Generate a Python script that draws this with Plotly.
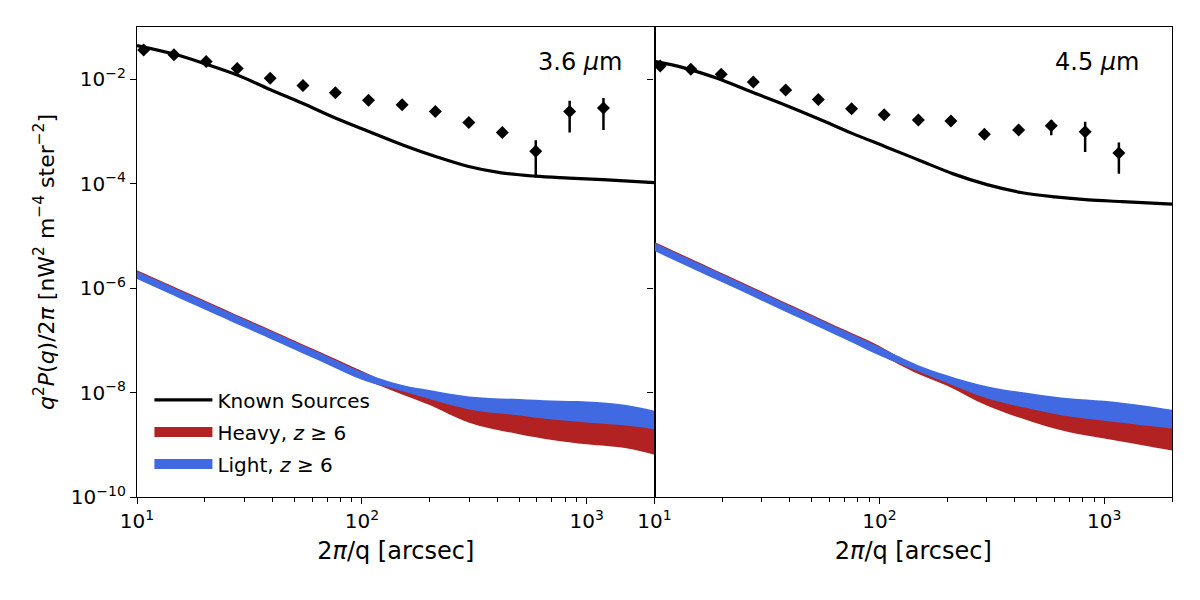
import plotly.graph_objects as go

# ---------------- data ----------------
# model band grid (2pi/q in arcsec)
band_x = [10, 15, 20, 30, 50, 70, 100, 150, 200, 300, 500, 700, 1000, 1500, 2000]

# 3.6 micron bands
heavy36_upper = [2.21e-6, 1.01e-6, 5.81e-7, 2.65e-7, 9.91e-8, 5.18e-8, 2.60e-8, 1.23e-8, 9.16e-9, 6.34e-9, 5.22e-9, 4.62e-9, 4.24e-9, 3.66e-9, 2.97e-9]
heavy36_lower = [1.56e-6, 7.11e-7, 4.08e-7, 1.87e-7, 6.97e-8, 3.64e-8, 1.83e-8, 9.33e-9, 5.77e-9, 2.65e-9, 1.59e-9, 1.24e-9, 1.02e-9, 8.59e-10, 6.46e-10]
light36_upper = [2.11e-6, 9.66e-7, 5.55e-7, 2.54e-7, 9.46e-8, 4.94e-8, 2.48e-8, 1.41e-8, 1.12e-8, 8.45e-9, 7.52e-9, 7.03e-9, 6.73e-9, 5.77e-9, 4.48e-9]
light36_lower = [1.49e-6, 6.79e-7, 3.90e-7, 1.78e-7, 6.65e-8, 3.48e-8, 1.75e-8, 1.07e-8, 7.53e-9, 4.76e-9, 3.63e-9, 3.04e-9, 2.67e-9, 2.33e-9, 1.98e-9]

# 4.5 micron bands
heavy45_upper = [7.64e-6, 3.41e-6, 1.92e-6, 8.57e-7, 3.10e-7, 1.59e-7, 7.82e-8, 2.88e-8, 1.81e-8, 1.01e-8, 6.53e-9, 5.21e-9, 4.47e-9, 3.65e-9, 3.10e-9]
heavy45_lower = [5.35e-6, 2.39e-6, 1.35e-6, 6.01e-7, 2.17e-7, 1.11e-7, 5.37e-8, 2.24e-8, 1.35e-8, 5.64e-9, 2.58e-9, 1.73e-9, 1.32e-9, 9.70e-10, 7.80e-10]
light45_upper = [7.29e-6, 3.26e-6, 1.84e-6, 8.18e-7, 2.96e-7, 1.52e-7, 7.46e-8, 3.31e-8, 2.15e-8, 1.32e-8, 9.31e-9, 7.80e-9, 6.95e-9, 5.66e-9, 4.67e-9]
light45_lower = [5.11e-6, 2.28e-6, 1.29e-6, 5.74e-7, 2.07e-7, 1.06e-7, 5.13e-8, 2.51e-8, 1.52e-8, 7.78e-9, 4.59e-9, 3.48e-9, 2.87e-9, 2.35e-9, 2.06e-9]

# known sources
known36_x = [10, 14.6, 19.9, 28.1, 39.0, 54.1, 76.6, 108, 153, 216, 295, 417, 589, 834, 1178, 2000]
known36_y = [4.42e-2, 3.03e-2, 2.00e-2, 1.19e-2, 6.35e-3, 3.51e-3, 1.79e-3, 9.89e-4, 5.46e-4, 3.24e-4, 2.16e-4, 1.61e-4, 1.39e-4, 1.28e-4, 1.19e-4, 1.05e-4]
known45_x = [10, 13.4, 19.0, 26.9, 37.8, 53.5, 75.7, 107, 151, 213, 301, 426, 603, 851, 1202, 2000]
known45_y = [2.19e-2, 1.67e-2, 1.04e-2, 5.74e-3, 3.25e-3, 1.75e-3, 9.18e-4, 5.06e-4, 2.79e-4, 1.54e-4, 9.57e-5, 6.79e-5, 5.58e-5, 4.90e-5, 4.54e-5, 4.04e-5]

# measured points
obs36_x = [10.7, 14.6, 20.3, 27.9, 39.1, 54.7, 76.2, 107, 151, 212, 299, 421, 593, 839, 1186]
obs36_y = [3.64e-2, 2.94e-2, 2.19e-2, 1.60e-2, 1.04e-2, 7.6e-3, 5.5e-3, 3.97e-3, 3.25e-3, 2.42e-3, 1.48e-3, 9.5e-4, 4.19e-4, 2.42e-3, 2.81e-3]
obs36_err_plus = [0, 0, 0, 0, 0, 0, 0, 0, 0, 0, 0, 0, 2.6e-4, 1.47e-3, 1.58e-3]
obs36_err_minus = [0, 0, 0, 0, 0, 0, 0, 0, 0, 0, 0, 0, 2.86e-4, 1.47e-3, 1.74e-3]

obs45_x = [10.6, 14.5, 19.8, 27.5, 38.3, 53.5, 75.2, 105, 149, 208, 293, 416, 581, 822, 1161]
obs45_y = [1.80e-2, 1.55e-2, 1.25e-2, 8.8e-3, 6.2e-3, 4.07e-3, 2.72e-3, 2.08e-3, 1.66e-3, 1.59e-3, 8.8e-4, 1.07e-3, 1.28e-3, 9.9e-4, 3.87e-4]
obs45_err_plus = [0, 0, 0, 0, 0, 0, 0, 0, 0, 0, 0, 0, 3.8e-4, 5.5e-4, 2.28e-4]
obs45_err_minus = [0, 0, 0, 0, 0, 0, 0, 0, 0, 0, 0, 0, 4.3e-4, 5.85e-4, 2.33e-4]

x_tickvals = [10, 100, 1000]
x_ticktext = ["10<sup>1</sup>", "10<sup>2</sup>", "10<sup>3</sup>"]
y_tickvals = [1e-10, 1e-8, 1e-6, 1e-4, 1e-2]
y_ticktext = ["10<sup>−10</sup>", "10<sup>−8</sup>", "10<sup>−6</sup>", "10<sup>−4</sup>", "10<sup>−2</sup>"]
x_minor = [20, 30, 40, 50, 60, 70, 80, 90, 200, 300, 400, 500, 600, 700, 800, 900, 2000]

RED = "#B22222"
BLUE = "#4169E1"
FONT = "DejaVu Sans"
HEAVY_NAME = "Heavy, <i>z</i> ≥ 6"
LIGHT_NAME = "Light, <i>z</i> ≥ 6"

fig = go.Figure()

panels = [
    ("x", "y", heavy36_upper, heavy36_lower, light36_upper, light36_lower,
     known36_x, known36_y, obs36_x, obs36_y, obs36_err_plus, obs36_err_minus, True),
    ("x2", "y2", heavy45_upper, heavy45_lower, light45_upper, light45_lower,
     known45_x, known45_y, obs45_x, obs45_y, obs45_err_plus, obs45_err_minus, False),
]


def add_band(lower, upper, color, name, group, xa, ya):
    fig.add_trace(go.Scatter(
        x=band_x, y=lower, mode="lines", line=dict(width=0, color=color, shape="spline"),
        showlegend=False, legendgroup=group, xaxis=xa, yaxis=ya, hoverinfo="skip"))
    fig.add_trace(go.Scatter(
        x=band_x, y=upper, mode="lines", line=dict(width=0, color=color, shape="spline"),
        fill="tonexty", fillcolor=color, name=name, legendgroup=group,
        showlegend=False, xaxis=xa, yaxis=ya, hoverinfo="skip"))


for (xa, ya, hu, hl, lu, ll, kx, ky, ox, oy, ep, em, show) in panels:
    add_band(hl, hu, RED, HEAVY_NAME, "heavy", xa, ya)
    add_band(ll, lu, BLUE, LIGHT_NAME, "light", xa, ya)
    fig.add_trace(go.Scatter(
        x=kx, y=ky, mode="lines", line=dict(color="black", width=3.2, shape="spline"),
        name="Known Sources", legendgroup="known", showlegend=show, legendrank=1,
        xaxis=xa, yaxis=ya))
    fig.add_trace(go.Scatter(
        x=ox, y=oy, mode="markers",
        marker=dict(symbol="diamond", size=10, color="black"),
        error_y=dict(type="data", symmetric=False, array=ep, arrayminus=em,
                     color="black", thickness=2.5, width=0),
        showlegend=False, xaxis=xa, yaxis=ya))

# legend swatches for the bands (patch-like entries)
fig.add_trace(go.Scatter(x=[None], y=[None], mode="lines", line=dict(color=RED, width=17),
                         name=HEAVY_NAME, legendgroup="heavy", legendrank=2, showlegend=True))
fig.add_trace(go.Scatter(x=[None], y=[None], mode="lines", line=dict(color=BLUE, width=17),
                         name=LIGHT_NAME, legendgroup="light", legendrank=3, showlegend=True))

axis_common = dict(
    type="log", showline=True, linecolor="black", linewidth=1.3, mirror=True,
    ticks="outside", ticklen=6, tickwidth=1.3, tickcolor="black",
    showgrid=False, zeroline=False,
    tickfont=dict(family=FONT, size=20, color="black"),
)

xcommon = dict(axis_common)
xcommon.update(
    range=[1, 3.30103], tickvals=x_tickvals, ticktext=x_ticktext,
    minor=dict(tickvals=x_minor, ticks="outside", ticklen=3.5, tickwidth=1, tickcolor="black", showgrid=False),
    title=dict(text="2<i>π</i>/q [arcsec]", font=dict(family=FONT, size=24, color="black"), standoff=10),
)

fig.update_layout(
    width=1200, height=600,
    margin=dict(l=137, r=28, t=27, b=103),
    plot_bgcolor="white", paper_bgcolor="white",
    font=dict(family=FONT, color="black"),
    xaxis=dict(domain=[0, 0.5], anchor="y", **xcommon),
    xaxis2=dict(domain=[0.5, 1.0], anchor="y2", **xcommon),
    yaxis=dict(anchor="x", range=[-10, -1], tickvals=y_tickvals, ticktext=y_ticktext,
               title=dict(text="<i>q</i><sup>2</sup><i>P</i>(<i>q</i>)/2<i>π</i> [nW<sup>2</sup> m<sup>−4</sup> ster<sup>−2</sup>]",
                          font=dict(family=FONT, size=22, color="black"), standoff=10),
               **axis_common),
    yaxis2=dict(anchor="x2", matches="y", range=[-10, -1], tickvals=y_tickvals,
                showticklabels=False, **axis_common),
    legend=dict(x=0.012, y=0.248, xanchor="left", yanchor="top",
                bgcolor="rgba(255,255,255,0)", borderwidth=0,
                font=dict(family=FONT, size=20, color="black"),
                traceorder="grouped", tracegroupgap=3, itemwidth=58),
    showlegend=True,
    annotations=[
        dict(text="3.6 <i>μ</i>m", xref="x domain", yref="y domain", x=0.942, y=0.926,
             xanchor="right", yanchor="middle", showarrow=False,
             font=dict(family=FONT, size=24, color="black")),
        dict(text="4.5 <i>μ</i>m", xref="x2 domain", yref="y2 domain", x=0.94, y=0.926,
             xanchor="right", yanchor="middle", showarrow=False,
             font=dict(family=FONT, size=24, color="black")),
    ],
)

fig.write_html("out.html")
